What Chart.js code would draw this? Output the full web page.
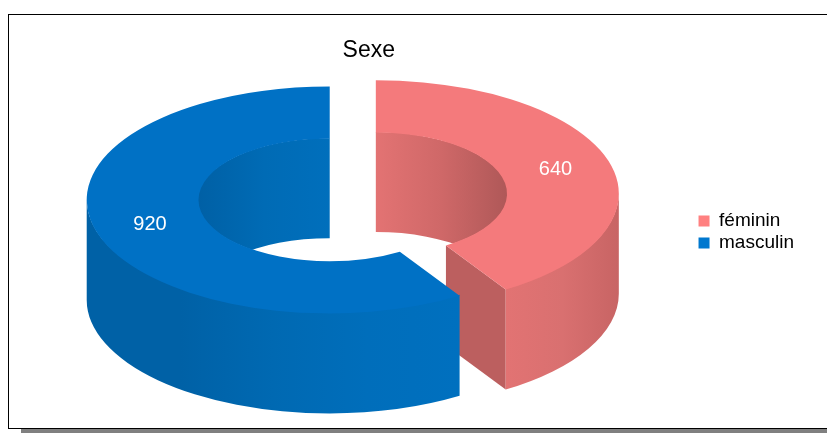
<!DOCTYPE html>
<html lang="fr">
<head>
<meta charset="UTF-8" />
<title>Sexe</title>
<script src="https://cdn.jsdelivr.net/npm/chart.js"></script>
<style>
  html, body { margin: 0; padding: 0; background: #fff; }
  #wrap { position: relative; width: 827px; height: 433px; overflow: hidden; }
  #frame {
    position: absolute; left: 8px; top: 14px; width: 830px; height: 413px;
    border: 1px solid #000; background: #fff;
  }
  #shadow { position: absolute; left: 21px; top: 429px; width: 820px; height: 10px; background: #808080; }
  #chart { position: absolute; left: 0; top: 0; }
</style>
</head>
<body>
<div id="wrap">
  <div id="shadow"></div>
  <div id="frame"></div>
  <canvas id="chart" width="827" height="433"></canvas>
</div>

<script>
  const categories = ['féminin', 'masculin'];
  const values = [640, 920];

  const legendColors = ['#FF8080', '#0078CF'];
  const topColors = ['#F47A7C', '#0071C5'];
  const endFaceColors = ['#BC5F5F', '#005C9F'];
  const outerWallStops = [
    ['#E27373', '#D97070', '#C86464'],
    ['#0061A6', '#0061A6', '#0069B2', '#006EBB', '#0070BF']
  ];
  const innerWallStops = [
    ['#E37373', '#CF6868', '#AF5858'],
    ['#0060A5', '#006BB5', '#006FBC']
  ];

  // the ring is squashed and extruded by hand, Chart.js only has flat doughnuts
  const squash = 0.467;
  const depth = 100;
  const ringShiftX = -16;
  const ringShiftY = -54;

  function wallGradient(ctx, x0, x1, stops) {
    const g = ctx.createLinearGradient(x0, 0, x1, 0);
    stops.forEach((c, i) => g.addColorStop(i / (stops.length - 1), c));
    return g;
  }

  // lift lets the wall run 1px under the top face so no light seam shows
  function band(ctx, cx, cy, r, a0, a1, lift) {
    ctx.beginPath();
    ctx.ellipse(cx, cy - lift, r, r * squash, 0, a0, a1);
    ctx.ellipse(cx, cy + depth, r, r * squash, 0, a1, a0, true);
    ctx.closePath();
  }

  function drawSlice(ctx, arc, i) {
    const a0 = arc.startAngle;
    const a1 = arc.endAngle;
    const ro = arc.outerRadius;
    const ri = arc.innerRadius;
    const mid = (a0 + a1) / 2;
    const cx = arc.x + ringShiftX + Math.cos(mid) * arc.options.offset;
    const cy = arc.y + ringShiftY + Math.sin(mid) * arc.options.offset * squash;

    // inside of the hole, only the far half can be seen
    const inA = Math.max(a0, a1 > Math.PI ? Math.PI : -Math.PI);
    const inB = Math.min(a1, a1 > Math.PI ? 2 * Math.PI : 0);
    if (inB > inA) {
      ctx.save();
      ctx.beginPath();
      ctx.ellipse(cx, cy, ri + 1, (ri + 1) * squash, 0, 0, 2 * Math.PI);
      ctx.clip();
      band(ctx, cx, cy, ri + 1, inA, inB, 0);
      const xa = cx + ri * Math.cos(inA);
      const xb = cx + ri * Math.cos(inB);
      ctx.fillStyle = wallGradient(ctx, xa, xb, innerWallStops[i]);
      ctx.fill();
      ctx.restore();
    }

    // cut faces
    [[a0, -Math.cos(a0)], [a1, Math.cos(a1)]].forEach(([a, facing]) => {
      if (facing <= 0.001) return;
      const c = Math.cos(a);
      const s = Math.sin(a) * squash;
      ctx.beginPath();
      ctx.moveTo(cx + ri * c, cy + ri * s);
      ctx.lineTo(cx + ro * c, cy + ro * s);
      ctx.lineTo(cx + ro * c, cy + ro * s + depth);
      ctx.lineTo(cx + ri * c, cy + ri * s + depth);
      ctx.closePath();
      ctx.fillStyle = endFaceColors[i];
      ctx.fill();
    });

    // outer wall, near half
    const outA = Math.max(a0, 0);
    const outB = Math.min(a1, Math.PI);
    if (outB > outA) {
      band(ctx, cx, cy, ro, outA, outB, 1);
      const xa = cx + ro * Math.cos(outA);
      const xb = cx + ro * Math.cos(outB);
      ctx.fillStyle = wallGradient(ctx, Math.min(xa, xb), Math.max(xa, xb), outerWallStops[i]);
      ctx.fill();
    }

    // top face
    ctx.beginPath();
    ctx.ellipse(cx, cy, ro, ro * squash, 0, a0, a1);
    ctx.ellipse(cx, cy, ri, ri * squash, 0, a1, a0, true);
    ctx.closePath();
    ctx.fillStyle = topColors[i];
    ctx.fill();

    // value label
    const rm = (ro + ri) / 2;
    ctx.fillStyle = '#fff';
    ctx.font = '20px "Liberation Sans"';
    ctx.textAlign = 'center';
    ctx.textBaseline = 'middle';
    ctx.fillText(values[i], cx + rm * Math.cos(mid), cy + rm * Math.sin(mid) * squash);
  }

  const ring3d = {
    id: 'ring3d',
    beforeDatasetsDraw(chart) {
      const ctx = chart.ctx;
      ctx.save();
      chart.getDatasetMeta(0).data.forEach((arc, i) => drawSlice(ctx, arc, i));
      ctx.restore();
      return false;
    }
  };

  new Chart(document.getElementById('chart'), {
    type: 'doughnut',
    data: {
      labels: categories,
      datasets: [{
        data: values,
        backgroundColor: legendColors,
        borderWidth: 0,
        offset: 24
      }]
    },
    options: {
      responsive: false,
      animation: false,
      radius: 243,
      cutout: '54%',
      layout: { padding: { left: 42, right: 23, top: 31, bottom: 0 } },
      plugins: {
        title: {
          display: true,
          text: 'Sexe',
          fullSize: false,
          color: '#000',
          font: { family: '"Liberation Sans"', size: 23, weight: 'normal' },
          padding: { top: 6, bottom: 4 }
        },
        legend: {
          position: 'right',
          labels: {
            boxWidth: 11,
            boxHeight: 11,
            padding: 3,
            color: '#000',
            font: { family: '"Liberation Sans"', size: 19 }
          }
        },
        tooltip: { enabled: false }
      }
    },
    plugins: [ring3d]
  });
</script>
</body>
</html>
